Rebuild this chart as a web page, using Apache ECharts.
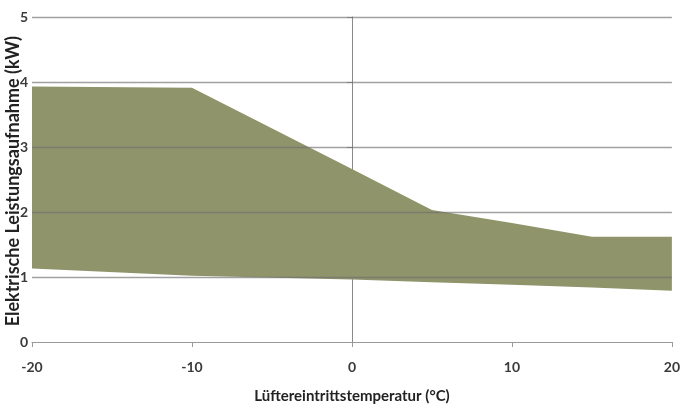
<!DOCTYPE html>
<html>
<head>
<meta charset="utf-8">
<script src="https://cdn.jsdelivr.net/npm/echarts@6/dist/echarts.min.js"></script>
<style>
  html, body { margin: 0; padding: 0; background: #fff; }
  #chart { width: 683px; height: 411px; }
</style>
</head>
<body>
<div id="chart"></div>
<script>
// temperatures (°C)
var temps = [-20, -10, 0, 5, 10, 15, 20];
// upper / lower limit of power consumption (kW)
var upper = [3.93, 3.91, 2.66, 2.03, 1.83, 1.62, 1.62];
var lower = [1.13, 1.02, 0.96, 0.92, 0.88, 0.84, 0.79];
var gridValues = [1, 2, 3, 4, 5];

var chartDom = document.getElementById('chart');
var myChart = echarts.init(chartDom);

// band polygon: along the upper limit, back along the lower limit
function renderBand(params, api) {
    var pts = [];
    temps.forEach(function (t, i) { pts.push(api.coord([t, upper[i]])); });
    for (var i = temps.length - 1; i >= 0; i--) {
        pts.push(api.coord([temps[i], lower[i]]));
    }
    return {
        type: 'polygon',
        shape: { points: pts },
        style: { fill: '#8f946b' }
    };
}

var option = {
    animation: false,
    grid: { left: 32, right: 11, top: 17, bottom: 69 },
    xAxis: {
        type: 'value',
        min: -20, max: 20, interval: 10,
        name: 'Lüftereintrittstemperatur (°C)',
        nameLocation: 'middle',
        nameGap: 47,
        nameTextStyle: { fontFamily: 'Lato', fontWeight: 'bold', fontSize: 15, color: '#222' },
        axisLine: { lineStyle: { color: '#9a9a9a', width: 1 } },
        axisTick: { show: true, length: 5, lineStyle: { color: '#9a9a9a' } },
        axisLabel: { fontFamily: 'Lato', fontWeight: 'bold', fontSize: 14, color: '#3a3a3a', margin: 18 },
        splitLine: { show: false }
    },
    yAxis: {
        type: 'value',
        min: 0, max: 5, interval: 1,
        axisLine: { show: true, onZero: true, lineStyle: { color: '#8a8a8a', width: 1 } },
        axisTick: { show: true, length: 5, lineStyle: { color: '#9a9a9a' } },
        axisLabel: { fontFamily: 'Lato', fontWeight: 'bold', fontSize: 14, color: '#3a3a3a', margin: 4 },
        splitLine: { show: false }
    },
    graphic: [{
        type: 'text',
        left: 4,
        top: 36,
        rotation: Math.PI / 2,
        style: {
            text: 'Elektrische Leistungsaufnahme (kW)',
            font: 'bold 18px Lato',
            fill: '#222'
        }
    }],
    series: [
        {
            name: 'band',
            type: 'custom',
            data: [0],
            renderItem: renderBand,
            silent: true,
            z: 2
        },
        {
            name: 'grid',
            type: 'line',
            data: [],
            z: 5,
            markLine: {
                silent: true,
                symbol: 'none',
                label: { show: false },
                lineStyle: { color: 'rgba(110,110,110,0.65)', type: 'solid', width: 1.3 },
                data: gridValues.map(function (v) { return { yAxis: v }; })
            }
        }
    ]
};

option && myChart.setOption(option);
</script>
</body>
</html>
